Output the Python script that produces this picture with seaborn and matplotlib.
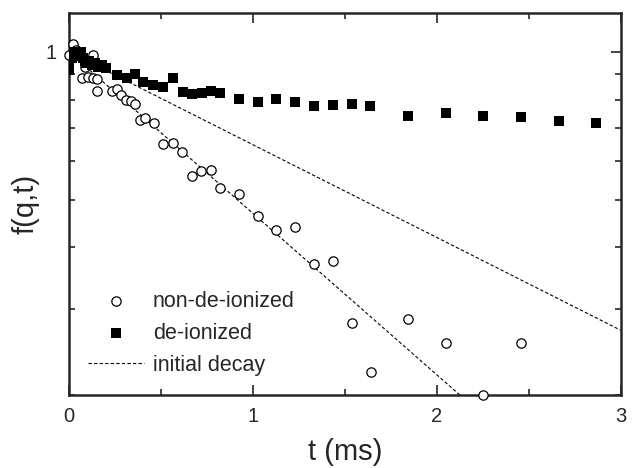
import numpy as np
import pandas as pd
import seaborn as sns
import matplotlib.pyplot as plt

# ------------------------------------------------------------
# f(q,t) decay: non-de-ionized vs de-ionized sample
# ------------------------------------------------------------
t_non = [0.0, 0.022, 0.130, 0.087, 0.071, 0.103, 0.130, 0.152, 0.152, 0.234,
         0.261, 0.283, 0.310, 0.337, 0.359, 0.386, 0.413, 0.462, 0.511, 0.565,
         0.614, 0.668, 0.717, 0.772, 0.821, 0.924, 1.027, 1.125, 1.228, 1.332,
         1.435, 1.538, 1.641, 1.842, 2.049, 2.250, 2.457,
         0.04, 0.06, 0.11]
f_non = [0.986, 1.038, 0.986, 0.932, 0.885, 0.889, 0.885, 0.881, 0.833, 0.833,
         0.840, 0.817, 0.798, 0.794, 0.783, 0.726, 0.733, 0.716, 0.649, 0.652,
         0.625, 0.558, 0.572, 0.574, 0.528, 0.513, 0.463, 0.433, 0.439, 0.369,
         0.375, 0.280, 0.223, 0.286, 0.255, 0.200, 0.255,
         1.01, 0.99, 0.96]

t_de = [0.0, 0.0, 0.015, 0.025, 0.035, 0.045, 0.055, 0.065, 0.075, 0.085,
        0.095, 0.11, 0.125, 0.14, 0.16, 0.18, 0.201, 0.261, 0.315, 0.359,
        0.402, 0.457, 0.511, 0.565, 0.620, 0.668, 0.723, 0.772, 0.821, 0.924,
        1.027, 1.125, 1.228, 1.332, 1.435, 1.538, 1.636, 1.842, 2.049, 2.250,
        2.457, 2.663, 2.864]
f_de = [0.95, 0.92, 0.97, 1.00, 0.99, 1.00, 0.98, 1.00, 0.97, 0.96,
        0.95, 0.96, 0.94, 0.95, 0.93, 0.94, 0.927, 0.898, 0.885, 0.902,
        0.869, 0.856, 0.848, 0.885, 0.829, 0.821, 0.825, 0.833, 0.825, 0.802,
        0.791, 0.802, 0.791, 0.776, 0.780, 0.783, 0.776, 0.740, 0.751, 0.740,
        0.737, 0.723, 0.716]

# initial decay lines (end points)
t_fast = [0.0, 2.125]
f_fast = [1.0, 0.200]
t_slow = [0.0, 3.0]
f_slow = [1.0, 0.271]

df_non = pd.DataFrame({'t': t_non, 'f': f_non})
df_de = pd.DataFrame({'t': t_de, 'f': f_de})
df_fast = pd.DataFrame({'t': t_fast, 'f': f_fast})
df_slow = pd.DataFrame({'t': t_slow, 'f': f_slow})

sns.set_style("ticks")
plt.rcParams['font.family'] = ['Liberation Sans', 'DejaVu Sans']

fig = plt.figure(figsize=(6.36, 4.68), dpi=100)
ax = fig.add_axes([0.1085, 0.156, 0.8675, 0.816])

sns.lineplot(x='t', y='f', data=df_fast, ax=ax, color='black', lw=0.8,
             linestyle=(0, (3, 2)), label='initial decay', zorder=1)
sns.lineplot(x='t', y='f', data=df_slow, ax=ax, color='black', lw=0.8,
             linestyle=(0, (3, 2)), zorder=1)
sns.scatterplot(x='t', y='f', data=df_non, ax=ax, marker='o', s=45,
                facecolor='white', edgecolor='black', linewidth=0.9,
                label='non-de-ionized', clip_on=False, zorder=3)
sns.scatterplot(x='t', y='f', data=df_de, ax=ax, marker='s', s=50,
                color='black', edgecolor='black', linewidth=0,
                label='de-ionized', zorder=3)

ax.set_yscale('log')
ax.set_xlim(0, 3)
ax.set_ylim(0.2, 1.2)
ax.set_xticks([0, 1, 2, 3])
ax.set_xticks([0.5, 1.5, 2.5], minor=True)
ax.set_yticks([1])
ax.set_yticklabels(['1'])
ax.set_yticks([0.2, 0.3, 0.4, 0.5, 0.6, 0.7, 0.8, 0.9], minor=True)
ax.yaxis.set_minor_formatter(plt.NullFormatter())

ax.tick_params(which='both', direction='in', top=True, right=True,
               width=1.2, labelsize=14.5, pad=9)
ax.tick_params(which='major', length=7)
ax.tick_params(which='minor', length=4)
for sp in ax.spines.values():
    sp.set_linewidth(1.8)

ax.set_xlabel('t (ms)', fontsize=21, labelpad=8)
ax.set_ylabel('f(q,t)', fontsize=21, labelpad=4)

# legend order: circles, squares, line
h, l = ax.get_legend_handles_labels()
order = [l.index('non-de-ionized'), l.index('de-ionized'), l.index('initial decay')]
ax.legend([h[i] for i in order], [l[i] for i in order], loc='lower left',
          bbox_to_anchor=(0.0, 0.0), frameon=False, fontsize=15.5,
          handlelength=2.6, handletextpad=0.4, labelspacing=0.5,
          borderaxespad=0.5)

fig.savefig('out.png', dpi=100)
